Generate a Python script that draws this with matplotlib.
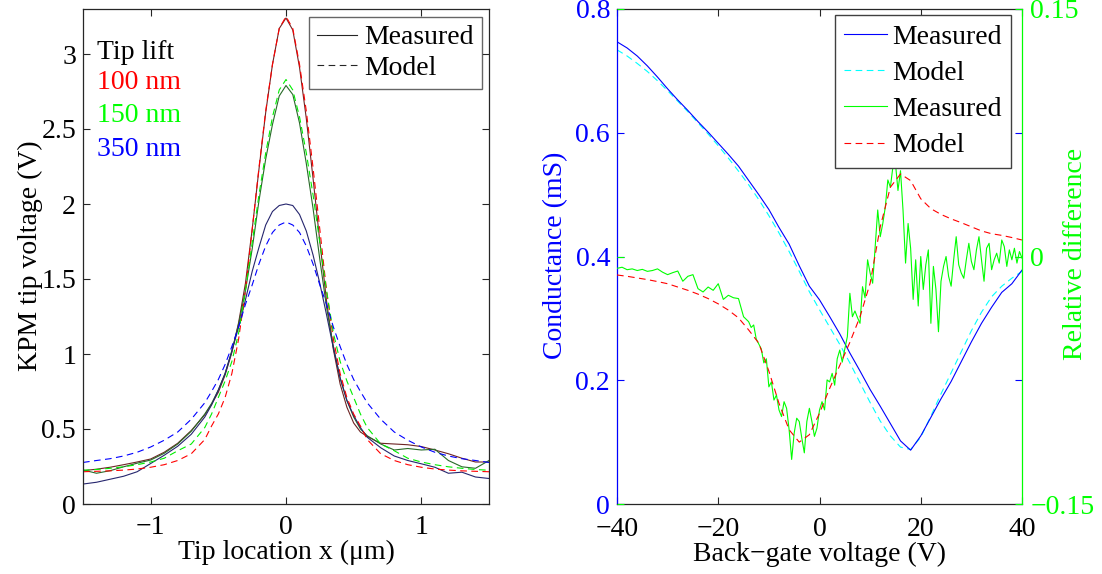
import numpy as np
import matplotlib
matplotlib.use("Agg")
import matplotlib.pyplot as plt
from matplotlib.lines import Line2D
from matplotlib.ticker import FuncFormatter

plt.rcParams['font.family'] = ['Liberation Serif', 'DejaVu Serif']
plt.rcParams['font.size'] = 20

# ---------------- Left panel data ----------------
tip_x = [-1.5, -1.4, -1.3, -1.2, -1.1, -1.0, -0.9, -0.8, -0.7, -0.6,
         -0.55, -0.5, -0.45, -0.4, -0.35, -0.3, -0.25, -0.2, -0.15, -0.1, -0.05, 0.0,
         0.05, 0.1, 0.15, 0.2, 0.25, 0.3, 0.35, 0.4, 0.45, 0.5, 0.55,
         0.6, 0.7, 0.8, 0.9, 1.0, 1.1, 1.2, 1.3, 1.4, 1.5]

meas_100 = [0.222, 0.232, 0.245, 0.262, 0.28, 0.30, 0.345, 0.405, 0.49, 0.595,
            0.665, 0.745, 0.86, 1.01, 1.21, 1.47, 1.83, 2.23, 2.61, 2.93, 3.17, 3.24,
            3.16, 2.91, 2.57, 2.17, 1.75, 1.35, 1.03, 0.80, 0.645, 0.54, 0.48,
            0.45, 0.405, 0.40, 0.395, 0.383, 0.36, 0.335, 0.305, 0.28, 0.28]
meas_150 = [0.227, 0.205, 0.222, 0.248, 0.272, 0.293, 0.338, 0.40, 0.485, 0.60,
            0.67, 0.76, 0.87, 1.02, 1.20, 1.42, 1.70, 2.02, 2.30, 2.53, 2.72, 2.79,
            2.73, 2.54, 2.27, 1.97, 1.63, 1.31, 1.05, 0.84, 0.69, 0.58, 0.50,
            0.455, 0.40, 0.36, 0.37, 0.36, 0.365, 0.29, 0.248, 0.238, 0.29]
meas_350 = [0.133, 0.145, 0.165, 0.185, 0.215, 0.27, 0.325, 0.385, 0.465, 0.58,
            0.66, 0.76, 0.87, 1.02, 1.18, 1.36, 1.55, 1.71, 1.86, 1.95, 1.99, 2.00,
            1.99, 1.93, 1.82, 1.66, 1.47, 1.26, 1.04, 0.84, 0.69, 0.59, 0.51,
            0.445, 0.375, 0.32, 0.29, 0.268, 0.245, 0.205, 0.212, 0.18, 0.17]
model_100 = [0.215, 0.218, 0.221, 0.226, 0.233, 0.245, 0.262, 0.29, 0.335, 0.43,
             0.52, 0.60, 0.71, 0.87, 1.10, 1.42, 1.83, 2.24, 2.62, 2.93, 3.17, 3.25,
             3.17, 2.93, 2.62, 2.24, 1.83, 1.42, 1.10, 0.87, 0.71, 0.60, 0.52,
             0.43, 0.335, 0.29, 0.262, 0.245, 0.233, 0.226, 0.221, 0.218, 0.215]
model_150 = [0.225, 0.23, 0.238, 0.248, 0.262, 0.28, 0.305, 0.355, 0.40, 0.51,
             0.60, 0.71, 0.82, 0.95, 1.14, 1.42, 1.74, 2.06, 2.34, 2.58, 2.76, 2.83,
             2.76, 2.58, 2.34, 2.06, 1.74, 1.42, 1.14, 0.95, 0.82, 0.71, 0.60,
             0.51, 0.40, 0.355, 0.305, 0.28, 0.262, 0.248, 0.238, 0.23, 0.225]
model_350 = [0.277, 0.29, 0.302, 0.32, 0.345, 0.38, 0.425, 0.48, 0.565, 0.675,
             0.75, 0.83, 0.93, 1.05, 1.18, 1.33, 1.46, 1.60, 1.72, 1.81, 1.86, 1.88,
             1.86, 1.81, 1.72, 1.60, 1.46, 1.33, 1.18, 1.05, 0.93, 0.83, 0.75,
             0.675, 0.565, 0.48, 0.425, 0.38, 0.345, 0.32, 0.302, 0.29, 0.277]

lift_labels = ["100 nm", "150 nm", "350 nm"]
meas_colors = ["#6e2424", "#286a28", "#26266e"]
model_colors = ["#ff0000", "#00ee00", "#0000ff"]
label_colors = ["#ff0000", "#00ff00", "#0000ff"]

# ---------------- Right panel data ----------------
gate_v = np.arange(-40, 41, 2)
cond_meas = [0.747, 0.737, 0.724, 0.708, 0.690, 0.671, 0.653, 0.636, 0.618, 0.601,
             0.583, 0.565, 0.546, 0.523, 0.500, 0.476, 0.447, 0.420, 0.385, 0.352,
             0.330, 0.303, 0.275, 0.244, 0.215, 0.185, 0.158, 0.130, 0.102, 0.087,
             0.110, 0.140, 0.170, 0.198, 0.230, 0.262, 0.292, 0.318, 0.342, 0.356, 0.378]
cond_model = [0.734, 0.724, 0.712, 0.699, 0.684, 0.668, 0.651, 0.634, 0.616, 0.598,
              0.579, 0.559, 0.538, 0.516, 0.492, 0.466, 0.438, 0.408, 0.376, 0.343,
              0.314, 0.286, 0.258, 0.228, 0.196, 0.164, 0.134, 0.110, 0.092, 0.088,
              0.108, 0.142, 0.178, 0.212, 0.246, 0.280, 0.310, 0.335, 0.352, 0.365, 0.376]
rel_model = [-0.0112, -0.0120, -0.0130, -0.0140, -0.0152, -0.0165, -0.0185, -0.0205, -0.0228, -0.0255,
             -0.0287, -0.0325, -0.0372, -0.0445, -0.0525, -0.0695, -0.089, -0.105, -0.1125, -0.108,
             -0.095, -0.080, -0.066, -0.052, -0.0365, -0.0162, 0.018, 0.042, 0.050, 0.046,
             0.035, 0.029, 0.0255, 0.0228, 0.0205, 0.0180, 0.0155, 0.0138, 0.0128, 0.0115, 0.0100]

rel_v = np.concatenate([np.arange(-40, -14, 1.0), np.arange(-14.5, 40.01, 0.5)])
rel_meas = [
    # -40 .. -15 (step 1)
    -0.0072, -0.0065, -0.0080, -0.0075, -0.0085, -0.0078, -0.0090, -0.0085, -0.0075, -0.0095,
    -0.0110, -0.0098, -0.0088, -0.0150, -0.0120, -0.0110, -0.0195, -0.0215, -0.0185, -0.0205,
    -0.0165, -0.0260, -0.0235, -0.0250, -0.0255, -0.0365,
    # -14.5 .. 40 (step 0.5)
    -0.0380, -0.0395, -0.0430, -0.0415, -0.0500, -0.0530, -0.0560, -0.0645, -0.0620, -0.0790,
    -0.0760, -0.0870, -0.0840, -0.0930, -0.0970, -0.0880, -0.0920, -0.1050, -0.1230, -0.1070,
    -0.0980, -0.1000, -0.1100, -0.1190, -0.1000, -0.0920, -0.1000, -0.1090, -0.1040, -0.0930,
    -0.0880, -0.0930, -0.0748, -0.0760, -0.0708, -0.0780, -0.0620, -0.0567, -0.0640, -0.0560,
    -0.0486, -0.0223, -0.0365, -0.0330, -0.0370, -0.0405, -0.0183, -0.0250, -0.0020, -0.0100,
    -0.0162, 0.0060, 0.0282, 0.0120, 0.0200, 0.0300, 0.0464, 0.0420, 0.0544, 0.0565,
    0.0400, 0.0520, 0.0280, -0.0040, 0.0200, 0.0050, -0.0260, -0.0020, -0.0300, 0.0000,
    -0.0200, -0.0050, 0.0040, -0.0405, -0.0060, -0.0200, -0.0456, -0.0150, -0.0060, 0.0000,
    -0.0120, -0.0180, -0.0020, 0.0120, -0.0050, -0.0100, -0.0132, -0.0020, 0.0080, -0.0030,
    -0.0080, 0.0040, 0.0120, -0.0020, -0.0150, 0.0050, 0.0080, -0.0080, -0.0020, 0.0020,
    -0.0040, 0.0100, 0.0060, -0.0060, 0.0040, -0.0020, 0.0050, -0.0040, 0.0030, -0.0010,
]

# ---------------- Figure ----------------
W, H = 1102, 574
fig = plt.figure(figsize=(W / 100, H / 100), dpi=100)

def fmt(v, pos):
    s = "%g" % v
    return s.replace("-", "\u2212")

dark = "#262626"
lw = 0.8
dash = (6, 4)

ax1 = fig.add_axes([83 / W, 1 - 504 / H, 406 / W, 495 / H])
for m, c in zip([meas_100, meas_150, meas_350], meas_colors):
    ax1.plot(tip_x, m, color=c, lw=lw)
for m, c in zip([model_100, model_150, model_350], model_colors):
    ax1.plot(tip_x, m, color=c, lw=lw, dashes=dash)
ax1.set_xlim(-1.5, 1.5)
ax1.set_ylim(0, 3.3)
ax1.set_xticks([-1, 0, 1])
ax1.set_yticks([0, 0.5, 1, 1.5, 2, 2.5, 3])
ax1.xaxis.set_major_formatter(FuncFormatter(fmt))
ax1.yaxis.set_major_formatter(FuncFormatter(fmt))
ax1.tick_params(direction='in', length=5, width=0.8, color=dark, top=True, right=True,
                labelsize=20, pad=5)
ax1.tick_params(axis='x', pad=8)
for s in ax1.spines.values():
    s.set_color(dark)
    s.set_linewidth(0.9)
ax1.set_xlabel("Tip location x (\u03bcm)", fontsize=20, labelpad=0)

ax1.text(0.034, 0.913, "Tip lift", color="black", fontsize=20, transform=ax1.transAxes,
         ha='left', va='center')
for i, (lab, c) in enumerate(zip(lift_labels, label_colors)):
    ax1.text(0.034, [0.851, 0.784, 0.717][i], lab, color=c, fontsize=20,
             transform=ax1.transAxes, ha='left', va='center')

h1 = [Line2D([], [], color=dark, lw=lw), Line2D([], [], color=dark, lw=lw, dashes=dash)]
leg1 = ax1.legend(h1, ["Measured", "Model"], loc='upper right',
                  bbox_to_anchor=((482 - 83) / 406, (504 - 16.5) / 495), borderaxespad=0,
                  fontsize=20, frameon=True, fancybox=False, handlelength=1.45,
                  handletextpad=0.25, labelspacing=0.18, borderpad=0.3)
leg1.get_frame().set_edgecolor("#404040")
leg1.get_frame().set_linewidth(1.0)

fig.text(30 / W, 1 - 256 / H, "KPM tip voltage (V)", rotation=90, ha='center', va='center',
         fontsize=20)

# Right panel
ax2 = fig.add_axes([617 / W, 1 - 504 / H, 405 / W, 495 / H])
ax3 = ax2.twinx()
l1, = ax2.plot(gate_v, cond_model, color="#00ffff", lw=lw, dashes=dash)
l0, = ax2.plot(gate_v, cond_meas, color="#0000ff", lw=lw)
l2, = ax3.plot(rel_v, rel_meas, color="#00ff00", lw=lw)
l3, = ax3.plot(gate_v, rel_model, color="#ff0000", lw=lw, dashes=dash)
ax2.set_xlim(-40, 40)
ax2.set_ylim(0, 0.8)
ax3.set_ylim(-0.15, 0.15)
ax2.set_xticks([-40, -20, 0, 20, 40])
ax2.set_yticks([0, 0.2, 0.4, 0.6, 0.8])
ax3.set_yticks([-0.15, 0, 0.15])
for a in (ax2, ax3):
    a.xaxis.set_major_formatter(FuncFormatter(fmt))
    a.yaxis.set_major_formatter(FuncFormatter(fmt))
ax2.tick_params(axis='x', direction='in', length=5, width=0.8, color=dark, top=True,
                labelsize=20, pad=9.5)
ax2.tick_params(axis='y', direction='in', length=5, width=0.8, colors="#0000ff",
                left=True, right=True, labelright=False, labelsize=20, pad=5)
ax3.tick_params(axis='y', direction='in', length=5, width=0.8, colors="#00ff00",
                left=True, right=True, labelleft=False, labelright=True, labelsize=20, pad=6)
ax2.spines['left'].set_color("#0000ff")
ax2.spines['right'].set_visible(False)
ax2.spines['top'].set_color(dark)
ax2.spines['bottom'].set_color(dark)
ax3.spines['left'].set_visible(False)
ax3.spines['top'].set_visible(False)
ax3.spines['bottom'].set_visible(False)
ax3.spines['right'].set_color("#00ff00")
for s in list(ax2.spines.values()) + list(ax3.spines.values()):
    s.set_linewidth(0.9)
ax2.set_xlabel("Back\u2212gate voltage (V)", fontsize=20, labelpad=0)
fig.text(556 / W, 1 - 255 / H, "Conductance (mS)", rotation=90, ha='center', va='center',
         fontsize=20, color="#0000ff")
fig.text(1075 / W, 1 - 254 / H, "Relative difference", rotation=90, ha='center', va='center',
         fontsize=20, color="#00ff00")

leg2 = ax3.legend([l0, l1, l2, l3], ["Measured", "Model", "Measured", "Model"],
                  loc='upper right',
                  bbox_to_anchor=((1011 - 617) / 405, (504 - 15) / 495), borderaxespad=0,
                  fontsize=20, frameon=True, fancybox=False, handlelength=1.55,
                  handletextpad=0.2, labelspacing=0.39, borderpad=0.33)
leg2.get_frame().set_edgecolor("#404040")
leg2.get_frame().set_linewidth(1.0)
leg2.get_frame().set_alpha(1)

fig.savefig("out.png", dpi=100)
